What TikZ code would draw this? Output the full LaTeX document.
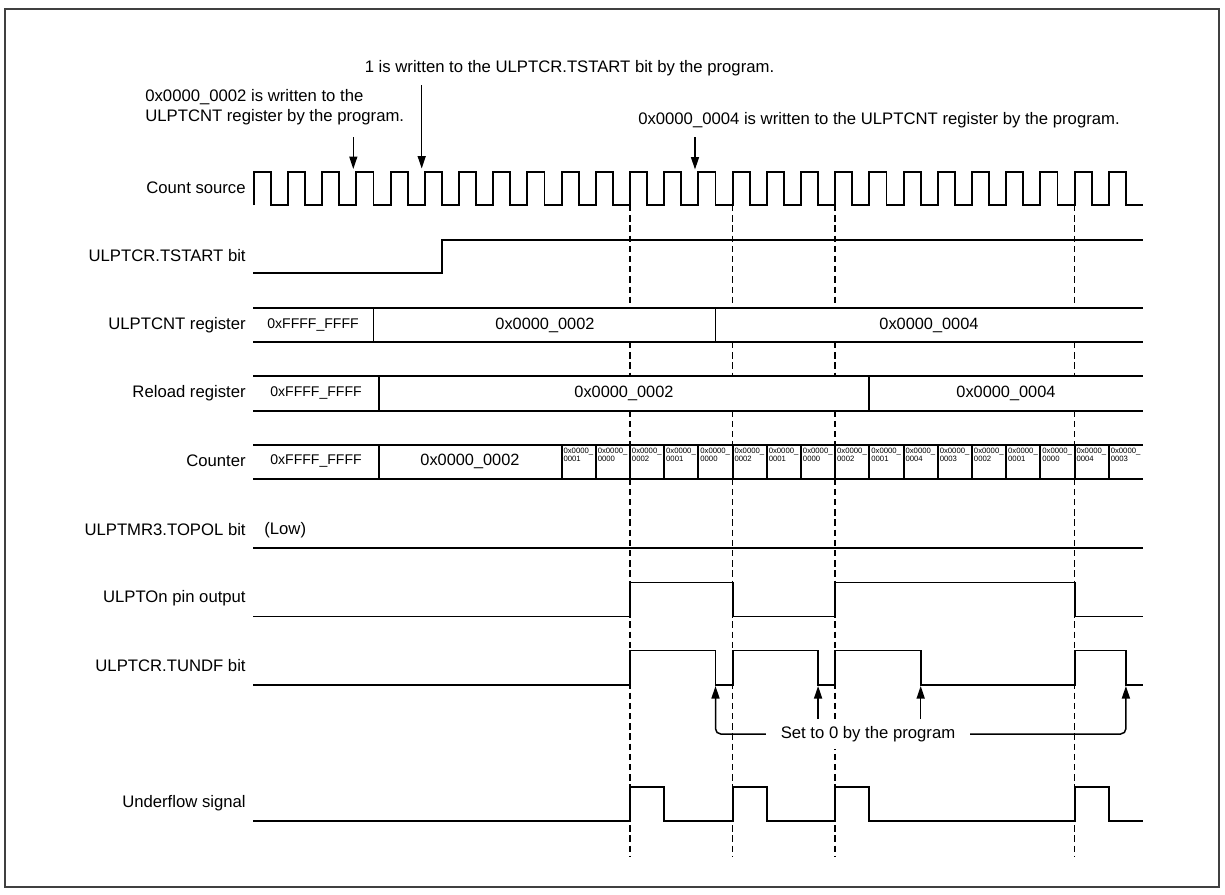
\documentclass[tikz,border=0pt]{standalone}
\usepackage{fontspec}
\setmainfont{Liberation Sans}
\usetikzlibrary{arrows.meta}

\begin{document}
\begin{tikzpicture}[x=0.02cm, y=-0.02cm,
      sig/.style={line width=1.1pt},
      guide/.style={line width=0.95pt, dash pattern=on 3.6pt off 2.2pt},
      lbl/.style={anchor=east, inner sep=0pt, font=\fontsize{9.5}{11.4}\selectfont},
      note/.style={inner sep=0pt, align=left, font=\fontsize{9.5}{11.3}\selectfont},
      val/.style={inner sep=0pt, font=\fontsize{9.3}{11}\selectfont},
      ini/.style={inner sep=0pt, font=\fontsize{8}{9.6}\selectfont},
      tiny/.style={anchor=north west, inner sep=0pt, align=left, font=\fontsize{4.4}{4.3}\selectfont},
      ar/.style={-{Triangle[length=2.5mm, width=1.6mm]}, line width=0.85pt}
    ]
    \useasboundingbox (0,0) rectangle (1225,894);
    \draw[line width=0.6pt, black!75] (5,9) rectangle (1219,887);

    % notes on top
    \node[note] (wr1) at (569.5,68) {1 is written to the ULPTCR.TSTART bit by the program.};
    \node[note, anchor=west] (wr2) at (145,107) {0x0000\_0002 is written to the\\ULPTCNT register by the program.};
    \node[note] (wr4) at (879,120) {0x0000\_0004 is written to the ULPTCNT register by the program.};
    \coordinate (a1s) at (421.7,85);  \coordinate (a1e) at (421.7,168.5);
    \coordinate (a2s) at (353.3,137); \coordinate (a2e) at (353.3,169);
    \coordinate (a4s) at (695,137);   \coordinate (a4e) at (695,169.5);
    \draw[ar] (a1s) -- (a1e);
    \draw[ar] (a2s) -- (a2e);
    \draw[ar] (a4s) -- (a4e);

    % row labels
    \node[lbl] (lcnt) at (246,188) {Count source};
    \node[lbl] (ltst) at (246,256) {ULPTCR.TSTART bit};
    \node[lbl] (lreg) at (246,325) {ULPTCNT register};
    \node[lbl] (lrld) at (246,393) {Reload register};
    \node[lbl] (lctr) at (246,461) {Counter};
    \node[lbl] (ltop) at (246,530) {ULPTMR3.TOPOL bit};
    \node[lbl] (lpin) at (246,598) {ULPTOn pin output};
    \node[lbl] (ltnd) at (246,666) {ULPTCR.TUNDF bit};
    \node[lbl] (luf)  at (246,803) {Underflow signal};

    % underflow guides (broken at the register rows)
    \foreach \x in {630,732.6,835.2,1074.6}
      \draw[guide] (\x,205) -- (\x,308) (\x,342) -- (\x,376)
        (\x,410.7) -- (\x,444.7) (\x,478.7) -- (\x,857);

    % count source
    \draw[sig] (253.8,205) \foreach \k in {0,...,25} {-- ++(0,-33) -- ++(17.1,0) -- ++(0,33) -- ++(17.1,0)};

    % TSTART
    \draw[sig] (253,272.7) -- (441.9,272.7) -- (441.9,240) -- (1143,240);

    % ULPTCNT register
    \draw[sig] (253,308) -- (1143,308) (253,342) -- (1143,342)
      (373.5,308) -- (373.5,342) (715.5,308) -- (715.5,342);
    \node[ini] (reg0) at (313,325) {0xFFFF\_FFFF};
    \node[val] (reg1) at (545,325) {0x0000\_0002};
    \node[val] (reg2) at (929,325) {0x0000\_0004};

    % reload register
    \draw[sig] (253,376) -- (1143,376) (253,410.7) -- (1143,410.7)
      (379,376) -- (379,410.7) (869.4,376) -- (869.4,410.7);
    \node[ini] (rld0) at (316,393) {0xFFFF\_FFFF};
    \node[val] (rld1) at (624,393) {0x0000\_0002};
    \node[val] (rld2) at (1006,393) {0x0000\_0004};

    % counter
    \draw[sig] (253,444.7) -- (1143,444.7) (253,478.7) -- (1143,478.7)
      (379,444.7) -- (379,478.7);
    \foreach \k in {0,...,16}
      \draw[sig] ({561.6+34.2*\k},444.7) -- ({561.6+34.2*\k},478.7);
    \node[ini] (ctr0) at (316,461) {0xFFFF\_FFFF};
    \node[val] (ctr1) at (470,461) {0x0000\_0002};
    \foreach \v [count=\i from 0] in {0001,0000,0002,0001,0000,0002,0001,0000,0002,0001,0004,0003,0002,0001,0000,0004,0003}
      \node[tiny] (cv\i) at ({561.6+34.2*\i+1.6},448) {0x0000\_\\\v};

    % TOPOL
    \draw[sig] (253,548) -- (1143,548);
    \node[note, anchor=west] (low) at (264,530) {(Low)};

    % pin output
    \draw[sig] (253,616.5) -- (630,616.5) -- (630,582.5) -- (732.6,582.5) -- (732.6,616.5)
      -- (835.2,616.5) -- (835.2,582.5) -- (1074.6,582.5) -- (1074.6,616.5) -- (1143,616.5);

    % TUNDF
    \draw[sig] (253,685) -- (630,685) -- (630,650.5) -- (715.5,650.5) -- (715.5,685)
      -- (732.6,685) -- (732.6,650.5) -- (818.1,650.5) -- (818.1,685) -- (835.2,685)
      -- (835.2,650.5) -- (920.7,650.5) -- (920.7,685) -- (1074.6,685) -- (1074.6,650.5)
      -- (1125.9,650.5) -- (1125.9,685) -- (1143,685);

    % cleared by program
    \node[note, fill=white, inner xsep=8.3pt, inner ysep=4pt] (clr) at (868,734) {Set to 0 by the program};
    \coordinate (t1) at (715.5,686);  \coordinate (t4) at (1125.9,686);
    \coordinate (s2) at (818.1,719);  \coordinate (t2) at (818.1,686);
    \coordinate (s3) at (920.7,719);  \coordinate (t3) at (920.7,686);
    \draw[ar, rounded corners=3pt] (clr.west) -| (t1);
    \draw[ar, rounded corners=3pt] (clr.east) -| (t4);
    \draw[ar] (s2) -- (t2);
    \draw[ar] (s3) -- (t3);

    % underflow signal
    \draw[sig] (253,821) \foreach \a in {630,732.6,835.2,1074.6}
      {-- (\a,821) -- (\a,787.3) -- ({\a+34.2},787.3) -- ({\a+34.2},821)} -- (1143,821);
  \end{tikzpicture}
\end{document}
